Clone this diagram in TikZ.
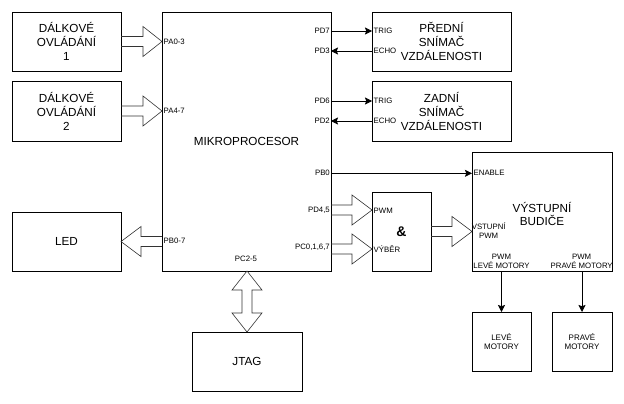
\documentclass[tikz,border=0pt]{standalone}
\usepackage{fontspec}
\setmainfont{Liberation Sans}
\usetikzlibrary{arrows.meta,calc}
\newcommand\bigf{\fontsize{11.7}{14}\selectfont}
\newcommand\smallf{\fontsize{7.8}{9.3}\selectfont}
\newcommand\motf{\fontsize{8}{9.4}\selectfont}
% horizontal fat arrow: start, tip, head length (signed)
\newcommand\fatH[3]{\draw[fat] let \p1=#1, \p2=#2 in
  (\x1,{\y1+5pt}) -- ({\x2-(#3)},{\y1+5pt}) -- ({\x2-(#3)},{\y1+15pt}) -- (\x2,\y1)
  -- ({\x2-(#3)},{\y1-15pt}) -- ({\x2-(#3)},{\y1-5pt}) -- (\x1,{\y1-5pt});}
% vertical double fat arrow: top tip, bottom tip
\newcommand\fatV[2]{\draw[fat] let \p1=#1, \p2=#2 in
  (\x1,\y1) -- ({\x1+15pt},{\y1-19pt}) -- ({\x1+5pt},{\y1-19pt}) -- ({\x1+5pt},{\y2+19pt})
  -- ({\x1+15pt},{\y2+19pt}) -- (\x1,\y2) -- ({\x1-15pt},{\y2+19pt}) -- ({\x1-5pt},{\y2+19pt})
  -- ({\x1-5pt},{\y1-19pt}) -- ({\x1-15pt},{\y1-19pt}) -- cycle;}
\begin{document}
\begin{tikzpicture}[x=1pt,y=-1pt,
  box/.style={draw, line width=0.9pt, inner sep=0pt, outer sep=0pt, align=center, font=\bigf},
  lbl/.style={font=\smallf, inner sep=0.5pt, align=center},
  arr/.style={-{Stealth[length=7pt,width=7pt,inset=1.2pt]}, line width=0.8pt},
  fat/.style={draw=black!80, line width=0.6pt, line join=miter}]
\useasboundingbox (0,0) rectangle (624,404);

% boxes
\node[box, minimum width=109pt, minimum height=59pt] (do1) at (66.5,41.5) {DÁLKOVÉ\\OVLÁDÁNÍ\\1};
\node[box, minimum width=109pt, minimum height=60pt] (do2) at (66.5,111) {DÁLKOVÉ\\OVLÁDÁNÍ\\2};
\node[box, minimum width=109pt, minimum height=59pt] (led) at (66.5,241.5) {LED};
\node[box, minimum width=169pt, minimum height=259pt] (mikro) at (246.5,141.5) {MIKROPROCESOR};
\node[box, minimum width=139pt, minimum height=59pt] (pred) at (441.5,41.5) {PŘEDNÍ\\SNÍMAČ\\VZDÁLENOSTI};
\node[box, minimum width=139pt, minimum height=60pt] (zad) at (441.5,111) {ZADNÍ\\SNÍMAČ\\VZDÁLENOSTI};
\node[box, minimum width=140pt, minimum height=119pt, text depth=0pt] (vyst) at (542,211.5) {\raisebox{2pt}{\begin{tabular}{@{}c@{}}VÝSTUPNÍ\\[-1pt]BUDIČE\end{tabular}}};
\node[box, minimum width=59pt, minimum height=79pt, font=\fontsize{14}{14}\selectfont\bfseries] (and) at (401.5,231.5) {\&};
\node[box, minimum width=59pt, minimum height=59pt, font=\motf] (lev) at (501.5,341.5) {LEVÉ\\MOTORY};
\node[box, minimum width=60pt, minimum height=59pt, font=\motf] (prav) at (582,341.5) {PRAVÉ\\MOTORY};
\node[box, minimum width=110pt, minimum height=59pt] (jtag) at (247,361.5) {JTAG};

% port labels on the microprocessor
\node[lbl, anchor=west] (pa03) at (163,42) {PA0-3};
\node[lbl, anchor=west] (pa47) at (163,111) {PA4-7};
\node[lbl, anchor=west] (pb07) at (163,241) {PB0-7};
\node[lbl] (pc25) at (246,259) {PC2-5};
\node[lbl, anchor=east] (pd7) at (330.5,31) {PD7};
\node[lbl, anchor=east] (pd3) at (330.5,51) {PD3};
\node[lbl, anchor=east] (pd6) at (330.5,101) {PD6};
\node[lbl, anchor=east] (pd2) at (330.5,121) {PD2};
\node[lbl, anchor=east] (pb0) at (330.5,173.3) {PB0};
\node[lbl, anchor=east] (pd45) at (330.5,210) {PD4,5};
\node[lbl, anchor=east] (pc0167) at (330.5,247) {PC0,1,6,7};

% labels on other blocks
\node[lbl, anchor=west] (trig1) at (373,31) {TRIG};
\node[lbl, anchor=west] (echo1) at (373,51) {ECHO};
\node[lbl, anchor=west] (trig2) at (373,101) {TRIG};
\node[lbl, anchor=west] (echo2) at (373,121) {ECHO};
\node[lbl, anchor=west] (enable) at (473,173.3) {ENABLE};
\node[lbl, anchor=west] (pwm) at (373,211) {PWM};
\node[lbl, anchor=west] (vyber) at (373,249.5) {VÝBĚR};
\node[lbl] (vstpwm) at (488.7,230.5) {VSTUPNÍ\\PWM};
\node[lbl] (pwml) at (501.5,261.5) {PWM\\LEVÉ MOTORY};
\node[lbl] (pwmr) at (581.7,261.5) {PWM\\PRAVÉ MOTORY};

\coordinate (pwmin) at (372,210);
\coordinate (selin) at (372,249);

% thin arrows
\draw[arr] (mikro.east |- pd7) -- (pred.west |- pd7);
\draw[arr] (pred.west |- pd3) -- (mikro.east |- pd3);
\draw[arr] (mikro.east |- pd6) -- (zad.west |- pd6);
\draw[arr] (zad.west |- pd2) -- (mikro.east |- pd2);
\draw[arr] (mikro.east |- pb0) -- (vyst.west |- pb0);
\draw[arr] (vyst.south -| lev) -- (lev.north);
\draw[arr] (vyst.south -| prav) -- (prav.north);

% fat arrows
\fatH{(do1.east)}{(do1.east -| mikro.west)}{19pt}
\fatH{(do2.east)}{(do2.east -| mikro.west)}{19pt}
\fatH{(mikro.west |- led.east)}{(led.east)}{-20pt}
\fatH{(mikro.east |- pwmin)}{(pwmin)}{20pt}
\fatH{(mikro.east |- selin)}{(selin)}{20pt}
\fatH{(and.east)}{(and.east -| vyst.west)}{20pt}
\fatV{(jtag.north |- mikro.south)}{(jtag.north)}
\end{tikzpicture}
\end{document}
